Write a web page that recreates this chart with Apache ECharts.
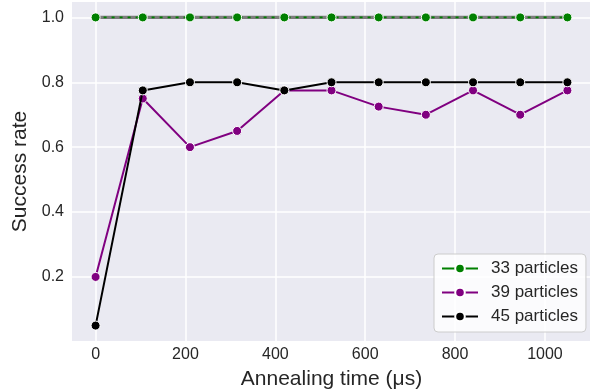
<!DOCTYPE html>
<html>
<head>
<meta charset="utf-8">
<script src="https://cdn.jsdelivr.net/npm/echarts@6/dist/echarts.min.js"></script>
<style>
  html, body { margin: 0; padding: 0; background: #ffffff; }
  #chart { width: 590px; height: 389px; }
</style>
</head>
<body>
<div id="chart"></div>
<script>
// Annealing times (µs) at which each run was measured
const annealTimes = [0, 105, 210, 315, 420, 525, 630, 735, 840, 945, 1050];

// Success rate per particle count
const rate33 = [1.0, 1.0, 1.0, 1.0, 1.0, 1.0, 1.0, 1.0, 1.0, 1.0, 1.0];
const rate39 = [0.2, 0.75, 0.6, 0.65, 0.775, 0.775, 0.725, 0.7, 0.775, 0.7, 0.775];
const rate45 = [0.05, 0.775, 0.8, 0.8, 0.775, 0.8, 0.8, 0.8, 0.8, 0.8, 0.8];

// Tick positions
const xTicks = [0, 200, 400, 600, 800, 1000];
const yTicks = [0.2, 0.4, 0.6, 0.8, 1.0];

const FONT = '"Liberation Sans", Arial, sans-serif';
const TEXT = '#262626';

const pairs = ys => annealTimes.map((t, i) => [t, ys[i]]);

const markerStyle = color => ({ color: color, borderColor: '#ffffff', borderWidth: 1 });

const chart = echarts.init(document.getElementById('chart'), null, { renderer: 'canvas' });

chart.setOption({
  animation: false,
  backgroundColor: '#ffffff',
  grid: {
    left: 72, top: 2, width: 519, height: 339,
    outerBoundsMode: 'none',
    containLabel: false,
    show: true, backgroundColor: '#EAEAF2', borderWidth: 0
  },
  xAxis: {
    type: 'value',
    min: -52.5, max: 1102.5,
    axisLine: { show: false },
    axisTick: { show: false, customValues: xTicks },
    axisLabel: {
      customValues: xTicks, color: TEXT, fontFamily: FONT, fontSize: 16, margin: 6,
      formatter: v => String(v)
    },
    splitLine: { show: false },
    name: 'Annealing time (μs)',
    nameLocation: 'middle',
    nameGap: 28,
    nameTextStyle: { color: TEXT, fontFamily: FONT, fontSize: 21 }
  },
  yAxis: {
    type: 'value',
    min: 0.0025, max: 1.0475,
    axisLine: { show: false },
    axisTick: { show: false, customValues: yTicks },
    axisLabel: {
      customValues: yTicks, color: TEXT, fontFamily: FONT, fontSize: 16, margin: 8,
      formatter: v => v.toFixed(1)
    },
    splitLine: { show: false },
    name: 'Success rate',
    nameLocation: 'middle',
    nameGap: 40,
    nameTextStyle: { color: TEXT, fontFamily: FONT, fontSize: 21 }
  },
  legend: {
    orient: 'vertical',
    left: 434, top: 254,
    padding: [6, 8, 7, 7],
    itemGap: 7,
    itemWidth: 36,
    itemHeight: 12,
    backgroundColor: 'rgba(255,255,255,0.8)',
    borderColor: '#cccccc',
    borderWidth: 1,
    borderRadius: 4,
    textStyle: { color: TEXT, fontFamily: FONT, fontSize: 17, lineHeight: 17, padding: [0, 0, 0, 8] },
    data: [
      { name: '33 particles', lineStyle: { type: 'solid', width: 2 } },
      { name: '39 particles' },
      { name: '45 particles' }
    ]
  },
  series: [
    {
      // white grid lines, kept beneath the data
      type: 'line', name: 'grid', data: [], silent: true, z: 1,
      markLine: {
        z: 1,
        silent: true, symbol: 'none', animation: false,
        label: { show: false },
        emphasis: { disabled: true },
        lineStyle: { color: '#ffffff', width: 1.5, type: 'solid' },
        data: xTicks.map(v => ({ xAxis: v })).concat(yTicks.map(v => ({ yAxis: v })))
      }
    },
    {
      // grey band under the 33-particle line
      type: 'line', name: 'band33', data: pairs(rate33), z: 2,
      symbol: 'none', silent: true,
      lineStyle: { color: '#7d7d7d', width: 3.4 }
    },
    {
      type: 'line', name: '33 particles', data: pairs(rate33), z: 3,
      symbol: 'circle', symbolSize: 9,
      lineStyle: { color: '#008000', width: 1.8, type: [3, 5] },
      itemStyle: markerStyle('#008000')
    },
    {
      type: 'line', name: '39 particles', data: pairs(rate39), z: 4,
      symbol: 'circle', symbolSize: 9,
      lineStyle: { color: '#800080', width: 2 },
      itemStyle: markerStyle('#800080')
    },
    {
      type: 'line', name: '45 particles', data: pairs(rate45), z: 5,
      symbol: 'circle', symbolSize: 9,
      lineStyle: { color: '#000000', width: 2 },
      itemStyle: markerStyle('#000000')
    }
  ]
});
</script>
</body>
</html>
